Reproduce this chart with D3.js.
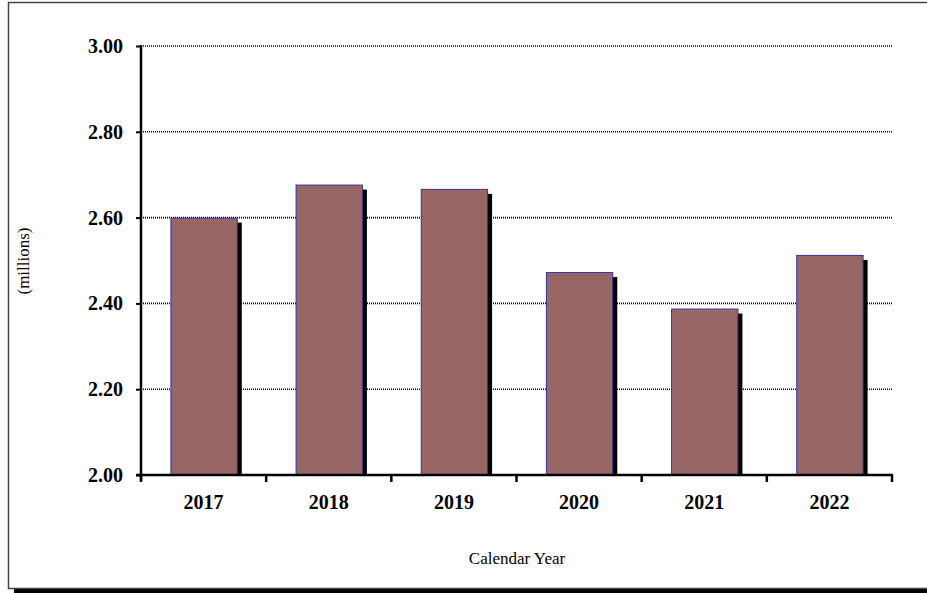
<!DOCTYPE html>
<html><head><meta charset="utf-8">
<script src="https://cdn.jsdelivr.net/npm/d3@7"></script>
<style>body{margin:0;background:#fff}svg{display:block}
text{font-family:"Liberation Serif","Times New Roman",serif;fill:#000}</style>
</head><body>
<script>
const categories = ["2017","2018","2019","2020","2021","2022"];
const values = [2.60, 2.677, 2.667, 2.473, 2.388, 2.513];
const yTicks = [2.00, 2.20, 2.40, 2.60, 2.80, 3.00];

(function () {
const W = 927, H = 593;
const svg = d3.select("body").append("svg").attr("width", W).attr("height", H);

// frame
svg.append("rect").attr("x", 14).attr("y", 589).attr("width", W).attr("height", 4).attr("fill", "#000");
svg.append("rect").attr("x", 8.5).attr("y", 2.5).attr("width", W + 10).attr("height", 586)
  .attr("fill", "none").attr("stroke", "#444").attr("stroke-width", 1.5);

const pL = 141, pR = 892, pT = 46, pB = 475;
const x = d3.scaleBand().domain(categories).range([pL, pR]).paddingInner(0.47).paddingOuter(0.235);
const y = d3.scaleLinear().domain([2, 3]).range([pB, pT]);

// gridlines
svg.append("g").selectAll("line").data(yTicks.filter(d => d > 2)).join("line")
  .attr("x1", pL).attr("x2", pR + 1).attr("y1", d => y(d)).attr("y2", d => y(d))
  .attr("stroke", "#000").attr("stroke-width", 1.6).attr("stroke-dasharray", "1,1");

// shadows
svg.append("g").selectAll("rect").data(values).join("rect")
  .attr("x", (d, i) => x(categories[i]) + 5).attr("y", d => y(d) + 5)
  .attr("width", x.bandwidth()).attr("height", d => pB - y(d) - 5)
  .attr("fill", "#000");
// bars
svg.append("g").selectAll("rect").data(values).join("rect")
  .attr("x", (d, i) => x(categories[i]) + 0.5).attr("y", d => y(d) + 0.5)
  .attr("width", x.bandwidth()).attr("height", d => pB - y(d) - 0.5)
  .attr("fill", "#996666").attr("stroke", "#333399").attr("stroke-width", 1);

// y axis
const yAxis = d3.axisLeft(y).tickValues(yTicks).tickSize(5).tickPadding(13).tickFormat(d3.format(".2f"));
const gy = svg.append("g").attr("transform", `translate(${pL},0)`).call(yAxis);
gy.attr("font-family", null).attr("font-size", null);
gy.select(".domain").remove();
gy.selectAll(".tick line").attr("stroke", "#000").attr("stroke-width", 2);
gy.selectAll("text").style("font-weight", "bold").style("font-size", "20px").attr("fill", "#000");
svg.append("line").attr("x1", pL).attr("x2", pL).attr("y1", pT - 1).attr("y2", pB + 6)
  .attr("stroke", "#000").attr("stroke-width", 2.5);

// x axis
const xb = d3.scalePoint().domain(d3.range(7)).range([pL, pR]);
svg.append("line").attr("x1", pL - 5).attr("x2", pR + 1).attr("y1", pB).attr("y2", pB)
  .attr("stroke", "#000").attr("stroke-width", 2.5);
svg.append("g").selectAll("line").data(d3.range(7)).join("line")
  .attr("x1", d => xb(d)).attr("x2", d => xb(d)).attr("y1", pB).attr("y2", pB + 7)
  .attr("stroke", "#000").attr("stroke-width", 2.5);
svg.append("g").selectAll("text").data(categories).join("text")
  .attr("x", d => x(d) + x.bandwidth() / 2).attr("y", 509)
  .attr("text-anchor", "middle")
  .style("font-weight", "bold").style("font-size", "20px").text(d => d);

svg.append("text").attr("x", 517).attr("y", 564).attr("text-anchor", "middle")
  .style("font-size", "17px").text("Calendar Year");
svg.append("text").attr("transform", "translate(29,261) rotate(-90)").attr("text-anchor", "middle")
  .style("font-size", "17px").text("(millions)");
})();
</script>
</body></html>
